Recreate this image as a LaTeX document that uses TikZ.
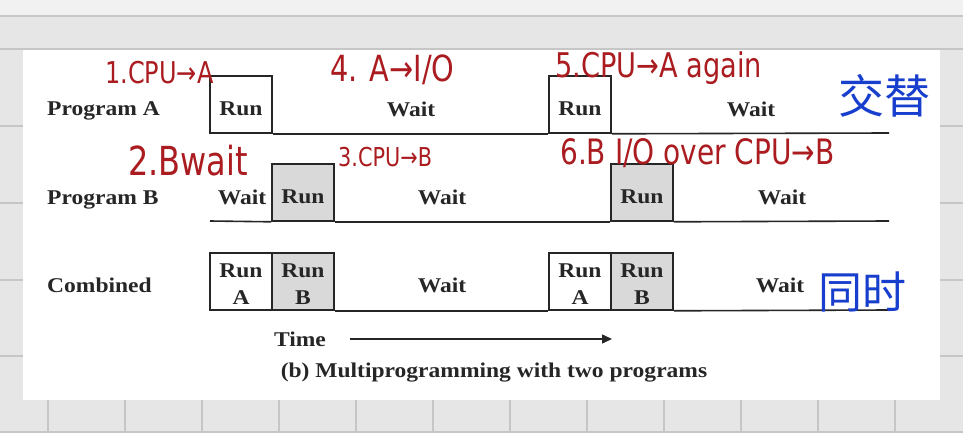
\documentclass[tikz,border=0pt]{standalone}
\usepackage{fontspec}
\setmainfont{Liberation Serif}[FakeStretch=1.12]
\newfontfamily\handfont{DejaVu Sans}[FakeStretch=0.8]
\newfontfamily\cjk{Noto Sans CJK SC}
\usetikzlibrary{positioning,arrows.meta}
\definecolor{pagegray}{RGB}{230,230,230}
\definecolor{topgray}{RGB}{241,241,241}
\definecolor{gridgray}{RGB}{198,198,198}
\definecolor{runfill}{RGB}{217,217,217}
\definecolor{inkdark}{RGB}{38,38,38}
\definecolor{penred}{RGB}{170,28,32}
\definecolor{penblue}{RGB}{24,62,205}
\newcommand\figfont{\fontsize{21}{27}\selectfont\bfseries}

\begin{document}
\begin{tikzpicture}[
  x=1pt, y=-1pt,
  txt/.style={font=\figfont, text=inkdark, inner sep=0pt},
  slt/.style={txt, rectangle, draw=inkdark, line width=1.6pt, fill=white,
              minimum width=62pt, minimum height=57pt, align=center,
              text height=22pt, text depth=0pt},
  sltg/.style={slt, fill=runfill},
  two/.style={text height=46pt, text depth=0pt},
  base/.style={draw=inkdark, line width=1.6pt},
  gridln/.style={draw=gridgray, line width=1.3pt},
  hw/.style={font=\handfont\fontsize{30}{30}\selectfont, text=penred, inner sep=0pt, anchor=west},
  hwzh/.style={font=\cjk\fontsize{46}{46}\selectfont, text=penblue, inner sep=0pt},
]
 \useasboundingbox (0,0) rectangle (963,433);

 % Page behind the figure
 \fill[pagegray] (0,0) rectangle (963,433);
 \fill[topgray] (0,0) rectangle (963,16);
 \draw[gridln] (0,16) -- (963,16);
 \foreach \gy in {49,126,203,280,356,432}
   \draw[gridln] (0,\gy) -- (963,\gy);
 \foreach \gx in {48,125,...,895}
   \draw[gridln] (\gx,49) -- (\gx,433);
 \fill[white] (23,50) rectangle (940,400);

 % Program A row
 \node[txt, anchor=base west] (progA) at (47,116) {Program A};
 \node[slt] (runA1) at (241,104.5) {Run};
 \node[slt] (runA2) at (580,104.5) {Run};
 \node[txt] (waitA1) at (411,109) {Wait};
 \node[txt] (waitA2) at (751,109) {Wait};
 \coordinate (endA) at (889,133);
 \draw[base] (runA1.south east) -- (runA2.south west);
 \draw[base] (runA2.south east) -- (endA);

 % Program B row
 \node[txt, anchor=base west] (progB) at (47,204) {Program B};
 \node[sltg] (runB1) at (303,192.5) {Run};
 \node[sltg] (runB2) at (642,192.5) {Run};
 \node[txt] (waitB0) at (242,197) {Wait};
 \node[txt] (waitB1) at (442,197) {Wait};
 \node[txt] (waitB2) at (782,197) {Wait};
 \coordinate (startB) at (210,221);
 \coordinate (endB) at (889,221);
 \draw[base] (startB) -- (runB1.south west);
 \draw[base] (runB1.south east) -- (runB2.south west);
 \draw[base] (runB2.south east) -- (endB);

 % Combined row
 \node[txt, anchor=base west] (comb) at (47,292) {Combined};
 \node[slt, two] (cmbA1) at (241,281.5) {Run\\A};
 \node[sltg, two] (cmbB1) at (303,281.5) {Run\\B};
 \node[slt, two] (cmbA2) at (580,281.5) {Run\\A};
 \node[sltg, two] (cmbB2) at (642,281.5) {Run\\B};
 \node[txt] (waitC1) at (442,285) {Wait};
 \node[txt] (waitC2) at (780,285) {Wait};
 \coordinate (endC) at (889,310);
 \draw[base] (cmbB1.south east) -- (cmbA2.south west);
 \draw[base] (cmbB2.south east) -- (endC);

 % Time axis and caption
 \node[txt] (time) at (300,339) {Time};
 \coordinate (tend) at (612,339);
 \draw[base, line width=1.4pt, -{Triangle[length=10pt,width=9pt]}, shorten <=24pt] (time.east) -- (tend);
 \node[txt] (caption) at (494,373) {(b) Multiprogramming with two programs};

 % Pen notes
 \node[hw] (note1) at (105,73) {1.CPU→A};
 \node[hw, font=\handfont\fontsize{36}{36}\selectfont] (note4) at (330,70) {4. A→I/O};
 \node[hw, font=\handfont\fontsize{34}{34}\selectfont] (note5) at (555,68) {5.CPU→A again};
 \node[hw, font=\handfont\fontsize{40}{40}\selectfont] (note2) at (128,161) {2.Bwait};
 \node[hw, font=\handfont\fontsize{26}{26}\selectfont] (note3) at (338,157) {3.CPU→B};
 \node[hw, font=\handfont\fontsize{35}{35}\selectfont] (note6) at (560,153) {6.B I/O over CPU→B};
 \node[hwzh] (alt) at (884,96) {交替};
 \node[hwzh, font=\cjk\fontsize{44}{44}\selectfont] (same) at (862,292) {同时};
\end{tikzpicture}
\end{document}
